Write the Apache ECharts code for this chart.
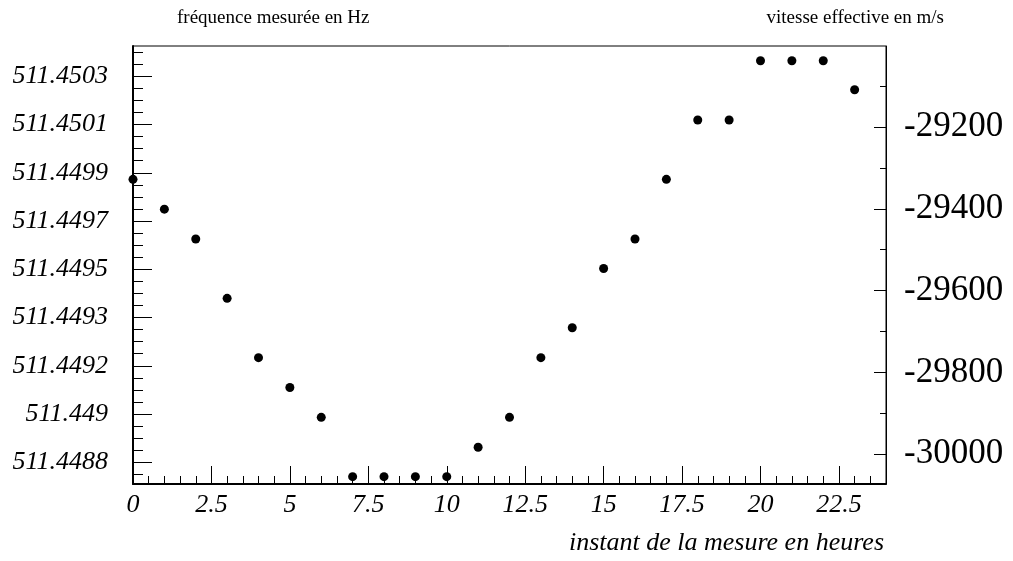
<!DOCTYPE html>
<html>
<head>
<meta charset="utf-8">
<script src="https://cdn.jsdelivr.net/npm/echarts@6/dist/echarts.min.js"></script>
<style>
  html, body { margin: 0; padding: 0; background: #fff; }
  #mesure { width: 1013px; height: 561px; }
</style>
</head>
<body>
<div id="mesure"></div>
<script>
  // instants de mesure (heures)
  var heures = [0, 1, 2, 3, 4, 5, 6, 7, 8, 9, 10, 11, 12, 13, 14, 15, 16, 17, 18, 19, 20, 21, 22, 23];
  var vitesse = [-29328, -29401, -29474, -29619, -29764, -29837, -29910, -30055, -30055, -30055, -30055, -29983,
                 -29910, -29764, -29691, -29546, -29474, -29328, -29183, -29183, -29038, -29038, -29038, -29109];
  // graduations de l'axe de gauche (frequence), une par pas
  var freqLabels = ['511.4488', '511.449', '511.4492', '511.4493', '511.4495', '511.4497', '511.4499', '511.4501', '511.4503'];
  // graduations
  var xMajor = [0, 2.5, 5, 7.5, 10, 12.5, 15, 17.5, 20, 22.5];
  var vMajor = [-30000, -29800, -29600, -29400, -29200];
  var vMinor = [-29900, -29700, -29500, -29300, -29100];

  var serif = "'Liberation Serif', 'DejaVu Serif', serif";

  var freqIdx = freqLabels.map(function (l, i) { return i; });
  var freqMinor = [];
  for (var k = -1; k < freqLabels.length * 4; k++) {
    if (k % 4 !== 0) freqMinor.push(k / 4);
  }

  var myChart = echarts.init(document.getElementById('mesure'));
  var option = {
    animation: false,
    grid: {
      left: 133,
      right: 127,
      top: 46,
      bottom: 77,
      show: true,
      borderColor: '#000',
      borderWidth: 1,
      outerBoundsMode: 'none'
    },
    graphic: [
      { type: 'text', x: 177, y: 18, style: { text: 'fréquence mesurée en Hz', font: '19px ' + serif, fill: '#000', align: 'left', verticalAlign: 'middle' } },
      { type: 'text', x: 944, y: 18, style: { text: 'vitesse effective en m/s', font: '19px ' + serif, fill: '#000', align: 'right', verticalAlign: 'middle' } },
      { type: 'text', x: 884, y: 543, style: { text: 'instant de la mesure en heures', font: 'italic 26px ' + serif, fill: '#000', align: 'right', verticalAlign: 'middle' } }
    ],
    xAxis: [
      {
        type: 'value', min: 0, max: 24, position: 'bottom',
        splitLine: { show: false },
        axisLine: { show: true, onZero: false, lineStyle: { color: '#000', width: 2 } },
        axisTick: { show: true, inside: true, length: 18, customValues: xMajor, lineStyle: { color: '#000' } },
        axisLabel: {
          customValues: xMajor, margin: 8,
          color: '#000', fontFamily: serif, fontStyle: 'italic', fontSize: 26
        }
      },
      {
        // petites graduations
        type: 'value', min: 0, max: 24, interval: 0.5, position: 'bottom',
        splitLine: { show: false },
        axisLine: { show: false, onZero: false },
        axisTick: { show: true, inside: true, length: 8, lineStyle: { color: '#000' } },
        axisLabel: { show: false }
      }
    ],
    yAxis: [
      {
        // frequence (gauche)
        type: 'value', min: -0.45, max: 8.627, position: 'left',
        splitLine: { show: false },
        axisLine: { show: true, onZero: false, lineStyle: { color: '#000', width: 2 } },
        axisTick: { show: true, inside: true, length: 19, customValues: freqIdx, lineStyle: { color: '#000' } },
        axisLabel: {
          customValues: freqIdx, margin: 25,
          color: '#000', fontFamily: serif, fontStyle: 'italic', fontSize: 26,
          formatter: function (v) { return freqLabels[Math.round(v)]; }
        }
      },
      {
        type: 'value', min: -0.45, max: 8.627, position: 'left',
        splitLine: { show: false },
        axisLine: { show: false, onZero: false },
        axisTick: { show: true, inside: true, length: 10, customValues: freqMinor, lineStyle: { color: '#000' } },
        axisLabel: { show: false }
      },
      {
        // vitesse (droite)
        type: 'value', min: -30073, max: -29002, position: 'right',
        splitLine: { show: false },
        axisLine: { show: true, onZero: false, lineStyle: { color: '#000', width: 1 } },
        axisTick: { show: true, inside: true, length: 12, customValues: vMajor, lineStyle: { color: '#000' } },
        axisLabel: {
          customValues: vMajor, margin: 18,
          color: '#000', fontFamily: serif, fontSize: 35,
          formatter: function (v) { return String(v); }
        }
      },
      {
        type: 'value', min: -30073, max: -29002, position: 'right',
        splitLine: { show: false },
        axisLine: { show: false, onZero: false },
        axisTick: { show: true, inside: true, length: 6, customValues: vMinor, lineStyle: { color: '#000' } },
        axisLabel: { show: false }
      }
    ],
    series: [
      {
        name: 'vitesse',
        type: 'scatter',
        xAxisIndex: 0,
        yAxisIndex: 2,
        symbol: 'circle',
        symbolSize: 9,
        itemStyle: { color: '#000', opacity: 1 },
        data: heures.map(function (h, i) { return [h, vitesse[i]]; })
      }
    ]
  };
  myChart.setOption(option);
</script>
</body>
</html>
